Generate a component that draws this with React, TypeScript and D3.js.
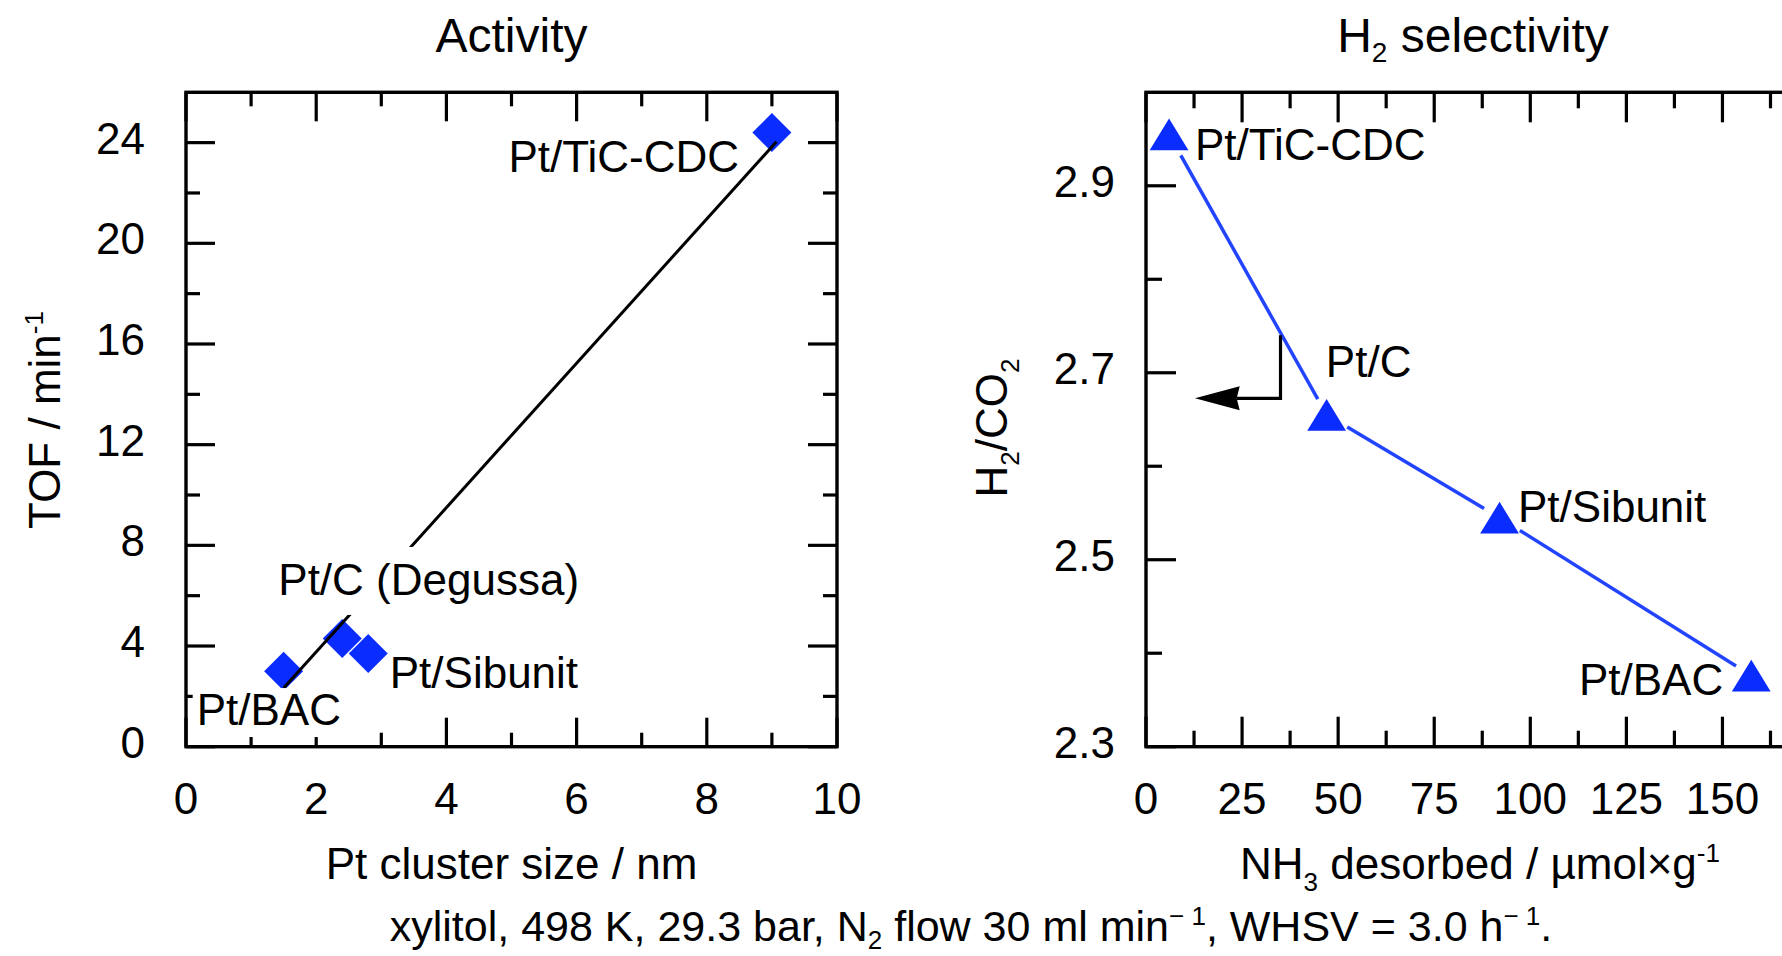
import React, { useEffect, useRef } from 'react';
import * as d3 from 'd3';

const W = 1782;
const H = 956;
const FONT = '"Liberation Sans", Arial, Helvetica, sans-serif';

// ---------- Activity panel data ----------
const actCatalysts = ['Pt/BAC', 'Pt/C (Degussa)', 'Pt/Sibunit', 'Pt/TiC-CDC'];
const actClusterSize = [1.5, 2.4, 2.8, 9.0];
const actTOF = [3.0, 4.3, 3.7, 24.4];
const actTrendX = [1.5, 9.07];
const actTrendY = [2.33, 24.04];
const actXMajor = [0, 2, 4, 6, 8, 10];
const actXMinor = [1, 3, 5, 7, 9];
const actYMajor = [0, 4, 8, 12, 16, 20, 24];
const actYMinor = [2, 6, 10, 14, 18, 22];
// label anchors (data coords)
const actLabelX = [0.164, 1.418, 3.13, 8.495];
const actLabelY = [0.86, 6.03, 2.32, 22.83];
const actLabelAnchor = ['start', 'start', 'start', 'end'];
const actLabelBoxed = [true, true, false, false];

// ---------- Selectivity panel data ----------
const selCatalysts = ['Pt/TiC-CDC', 'Pt/C', 'Pt/Sibunit', 'Pt/BAC'];
const selNH3 = [6, 47, 92, 157.5];
const selH2CO2 = [2.955, 2.655, 2.545, 2.376];
const selXMajor = [0, 25, 50, 75, 100, 125, 150, 175];
const selXLabels = [0, 25, 50, 75, 100, 125, 150];
const selXMinor = [12.5, 37.5, 62.5, 87.5, 112.5, 137.5, 162.5];
const selYMajor = [2.3, 2.5, 2.7, 2.9];
const selYMinor = [2.4, 2.6, 2.8];
const selLabelX = [12.75, 46.8, 96.8, 150.2];
const selLabelY = [2.9276, 2.6953, 2.5402, 2.355];
const selLabelAnchor = ['start', 'start', 'start', 'end'];
// arrow annotation (data coords): corner path then arrow tip
const selArrowX = [35, 35, 23.6];
const selArrowY = [2.74, 2.6726, 2.6726];
const selArrowTipX = 12.75;

const BLUE = '#0a2cff';
const BLUE_LINE = '#2244ff';

export default function App() {
  const ref = useRef<SVGSVGElement>(null);

  useEffect(() => {
    const svg = d3.select(ref.current as SVGSVGElement);
    svg.selectAll('*').remove();
    svg.append('rect').attr('width', W).attr('height', H).attr('fill', '#fff');

    const drawFrame = (
      x: d3.ScaleLinear<number, number>,
      y: d3.ScaleLinear<number, number>,
      xMaj: number[], xMin: number[], yMaj: number[], yMin: number[],
      majLen: number, minLen: number
    ) => {
      const g = svg.append('g').attr('stroke', '#000').attr('stroke-width', 3.2).attr('fill', 'none');
      const [x0, x1] = x.range();
      const [y0, y1] = y.range();
      const tick = (a: number, b: number, c: number, d: number) =>
        g.append('line').attr('x1', a).attr('y1', b).attr('x2', c).attr('y2', d);
      xMaj.forEach(v => { tick(x(v), y0, x(v), y0 - majLen); tick(x(v), y1, x(v), y1 + majLen); });
      xMin.forEach(v => { tick(x(v), y0, x(v), y0 - minLen); tick(x(v), y1, x(v), y1 + minLen); });
      yMaj.forEach(v => { tick(x0, y(v), x0 + majLen, y(v)); tick(x1, y(v), x1 - majLen, y(v)); });
      yMin.forEach(v => { tick(x0, y(v), x0 + minLen, y(v)); tick(x1, y(v), x1 - minLen, y(v)); });
      g.append('rect').attr('x', x0).attr('y', y1).attr('width', x1 - x0).attr('height', y0 - y1)
        .attr('stroke-width', 3.4).attr('stroke-linejoin', 'miter');
    };

    const text = (x: number, y: number, s: string, size: number, anchor = 'middle') =>
      svg.append('text').attr('x', x).attr('y', y).attr('font-size', size)
        .attr('font-family', FONT).attr('text-anchor', anchor).attr('fill', '#000').text(s);

    // ================= Activity =================
    const xA = d3.scaleLinear().domain([0, 10]).range([186, 837]);
    const yA = d3.scaleLinear().domain([0, 26]).range([746.7, 92.3]);
    drawFrame(xA, yA, actXMajor, actXMinor, actYMajor, actYMinor, 29, 14);

    actXMajor.forEach(v => text(xA(v), 814, String(v), 44));
    actYMajor.forEach(v => text(xA(0) - 41, yA(v) + 11, String(v), 44, 'end'));

    // diamonds
    const diamond = (cx: number, cy: number, r: number) =>
      `M${cx},${cy - r}L${cx + r},${cy}L${cx},${cy + r}L${cx - r},${cy}Z`;
    svg.append('g').selectAll('path').data(actClusterSize).join('path')
      .attr('d', (d, i) => diamond(xA(d), yA(actTOF[i]), 19.5))
      .attr('fill', BLUE);

    // trend line
    const lineA = d3.line<number>().x(d => xA(d)).y((d, i) => yA(actTrendY[i]));
    svg.append('path').attr('d', lineA(actTrendX)).attr('stroke', '#000')
      .attr('stroke-width', 3).attr('fill', 'none');

    // labels (some with white boxes)
    actCatalysts.forEach((name, i) => {
      const t = text(xA(actLabelX[i]), yA(actLabelY[i]), name, 44, actLabelAnchor[i]);
      if (!actLabelBoxed[i]) return;
      const node = t.node() as SVGTextElement;
      const w = node.getComputedTextLength();
      const lx = actLabelAnchor[i] === 'end' ? xA(actLabelX[i]) - w : xA(actLabelX[i]);
      const padTop = name.includes('Degussa') ? 48 : 37;
      const padBot = name.includes('Degussa') ? 20 : 12;
      svg.insert('rect', () => node)
        .attr('x', lx - 4).attr('y', yA(actLabelY[i]) - padTop)
        .attr('width', w + 8).attr('height', padTop + padBot).attr('fill', '#fff');
    });

    // titles
    text(511.5, 52, 'Activity', 48);
    text(511.5, 879, 'Pt cluster size / nm', 44);
    const yt = svg.append('text').attr('transform', `translate(60,420) rotate(-90)`)
      .attr('font-size', 44).attr('font-family', FONT).attr('text-anchor', 'middle');
    yt.append('tspan').text('TOF / min');
    yt.append('tspan').attr('font-size', 26).attr('dy', -17).text('-1');

    // ================= Selectivity =================
    const xS = d3.scaleLinear().domain([0, 175]).range([1146, 1146 + 175 * 3.843]);
    const yS = d3.scaleLinear().domain([2.3, 3.0]).range([746.7, 92.3]);
    drawFrame(xS, yS, selXMajor, selXMinor, selYMajor, selYMinor, 30, 16);

    selXLabels.forEach(v => text(xS(v), 814, String(v), 44));
    selYMajor.forEach(v => text(xS(0) - 31, yS(v) + 11, v.toFixed(1), 44, 'end'));

    // connecting line, trimmed near markers
    const pts = selNH3.map((d, i) => [xS(d), yS(selH2CO2[i])]);
    const gL = svg.append('g').attr('stroke', BLUE_LINE).attr('stroke-width', 3.5);
    for (let i = 0; i < pts.length - 1; i++) {
      const [ax, ay] = pts[i];
      const [bx, by] = pts[i + 1];
      const len = Math.hypot(bx - ax, by - ay);
      const ux = (bx - ax) / len, uy = (by - ay) / len;
      gL.append('line')
        .attr('x1', ax + ux * 24).attr('y1', ay + uy * 24)
        .attr('x2', bx - ux * 18).attr('y2', by - uy * 18);
    }

    // triangles
    const tri = (cx: number, cy: number) =>
      `M${cx},${cy - 15.8}L${cx + 19.4},${cy + 15.8}L${cx - 19.4},${cy + 15.8}Z`;
    svg.append('g').selectAll('path').data(selNH3).join('path')
      .attr('d', (d, i) => tri(xS(d), yS(selH2CO2[i])))
      .attr('fill', BLUE);

    selCatalysts.forEach((name, i) => {
      text(xS(selLabelX[i]), yS(selLabelY[i]), name, 44, selLabelAnchor[i]);
    });

    // arrow annotation
    const arrowLine = d3.line<number>().x(d => xS(d)).y((d, i) => yS(selArrowY[i]));
    svg.append('path').attr('d', arrowLine(selArrowX)).attr('stroke', '#000')
      .attr('stroke-width', 3.2).attr('fill', 'none');
    const bx = xS(selArrowX[2]) + 3, by = yS(selArrowY[2]), tx = xS(selArrowTipX);
    svg.append('path')
      .attr('d', `M${tx},${by}L${bx},${by - 12}L${bx - 3},${by}L${bx},${by + 12}Z`)
      .attr('fill', '#000');

    // titles
    const tS = svg.append('text').attr('x', 1473).attr('y', 52).attr('font-size', 48)
      .attr('font-family', FONT).attr('text-anchor', 'middle');
    tS.append('tspan').text('H');
    tS.append('tspan').attr('font-size', 28).attr('dy', 10).text('2');
    tS.append('tspan').attr('dy', -10).text(' selectivity');

    const xtS = svg.append('text').attr('x', 1480).attr('y', 879).attr('font-size', 44)
      .attr('font-family', FONT).attr('text-anchor', 'middle');
    xtS.append('tspan').text('NH');
    xtS.append('tspan').attr('font-size', 26).attr('dy', 12).text('3');
    xtS.append('tspan').attr('dy', -12).text(' desorbed / \u00b5mol\u00d7g');
    xtS.append('tspan').attr('font-size', 26).attr('dy', -17).text('-1');

    const ytS = svg.append('text').attr('transform', `translate(1007,428) rotate(-90)`)
      .attr('font-size', 44).attr('font-family', FONT).attr('text-anchor', 'middle');
    ytS.append('tspan').text('H');
    ytS.append('tspan').attr('font-size', 26).attr('dy', 12).text('2');
    ytS.append('tspan').attr('dy', -12).text('/CO');
    ytS.append('tspan').attr('font-size', 26).attr('dy', 12).text('2');

    // caption
    const cap = svg.append('text').attr('x', 971).attr('y', 941).attr('font-size', 43)
      .attr('font-family', FONT).attr('text-anchor', 'middle');
    cap.append('tspan').text('xylitol, 498 K, 29.3 bar, N');
    cap.append('tspan').attr('font-size', 26).attr('dy', 8).text('2');
    cap.append('tspan').attr('dy', -8).text(' flow 30 ml min');
    cap.append('tspan').attr('font-size', 26).attr('dy', -16).text('\u2212 1');
    cap.append('tspan').attr('dy', 16).text(', WHSV = 3.0 h');
    cap.append('tspan').attr('font-size', 26).attr('dy', -16).text('\u2212 1');
    cap.append('tspan').attr('dy', 16).text('.');
  }, []);

  return (
    <svg
      ref={ref}
      width={W}
      height={H}
      style={{ position: 'absolute', left: 0, top: 0, display: 'block' }}
    />
  );
}
